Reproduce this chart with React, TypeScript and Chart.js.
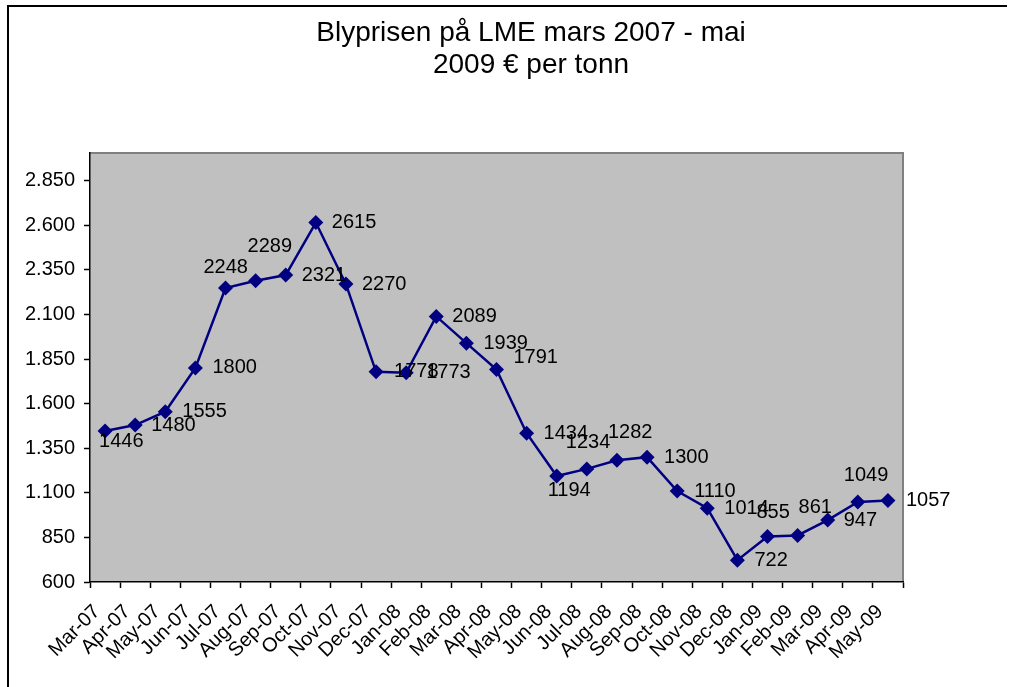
import React, { useEffect, useRef } from 'react';
import { Chart, registerables } from 'chart.js';

Chart.register(...registerables);

const months = [
  'Mar-07', 'Apr-07', 'May-07', 'Jun-07', 'Jul-07', 'Aug-07', 'Sep-07', 'Oct-07', 'Nov-07', 'Dec-07',
  'Jan-08', 'Feb-08', 'Mar-08', 'Apr-08', 'May-08', 'Jun-08', 'Jul-08', 'Aug-08', 'Sep-08', 'Oct-08',
  'Nov-08', 'Dec-08', 'Jan-09', 'Feb-09', 'Mar-09', 'Apr-09', 'May-09',
];

const prices = [
  1446, 1480, 1555, 1800, 2248, 2289, 2321, 2615, 2270, 1778,
  1773, 2089, 1939, 1791, 1434, 1194, 1234, 1282, 1300, 1110,
  1014, 722, 855, 861, 947, 1049, 1057,
];

const yTickValues = [600, 850, 1100, 1350, 1600, 1850, 2100, 2350, 2600, 2850];

const titleLines = ['Blyprisen på LME mars 2007 - mai', '2009 € per tonn'];

// label placement relative to each point (style only): [dx, dy] in px
const labelOffsets: [number, number][] = [
  [-6, 10], [16, 0], [17, 0], [17, 0], [-22, -21], [-8, -34], [16, 0], [16, 0], [16, 0], [18, 0],
  [20, 0], [16, 0], [17, 0], [17, -12], [17, 0], [-9, 14], [-21, -26], [-9, -28], [17, 0], [17, 0],
  [17, 0], [17, 0], [-11, -24], [1, -28], [16, 0], [-14, -26], [18, 0],
];

const FONT = '"Liberation Sans", Arial, Helvetica, sans-serif';

function fmt(v: number): string {
  return String(v).replace(/\B(?=(\d{3})+(?!\d))/g, '.');
}

const framePlugin = {
  id: 'framePlugin',
  beforeDraw(chart: any) {
    const { ctx, chartArea, width, height } = chart;
    ctx.save();
    ctx.fillStyle = '#ffffff';
    ctx.fillRect(0, 0, width, height);
    ctx.strokeStyle = '#000000';
    ctx.lineWidth = 2;
    ctx.beginPath();
    ctx.moveTo(8, height + 2);
    ctx.lineTo(8, 6);
    ctx.lineTo(1007, 6);
    ctx.stroke();
    ctx.fillStyle = '#c0c0c0';
    ctx.fillRect(chartArea.left, chartArea.top, chartArea.right - chartArea.left, chartArea.bottom - chartArea.top);
    ctx.strokeStyle = '#808080';
    ctx.lineWidth = 2;
    ctx.beginPath();
    ctx.moveTo(chartArea.left, chartArea.top);
    ctx.lineTo(chartArea.right, chartArea.top);
    ctx.lineTo(chartArea.right, chartArea.bottom);
    ctx.stroke();
    ctx.restore();
  },
  afterDraw(chart: any) {
    const { ctx } = chart;
    ctx.save();
    ctx.fillStyle = '#000000';
    ctx.font = `28px ${FONT}`;
    ctx.textAlign = 'center';
    ctx.textBaseline = 'middle';
    titleLines.forEach((t, i) => ctx.fillText(t, 531, 33 + i * 32));
    ctx.restore();
  },
};

const labelPlugin = {
  id: 'labelPlugin',
  afterDatasetsDraw(chart: any) {
    const { ctx } = chart;
    const meta = chart.getDatasetMeta(0);
    ctx.save();
    ctx.fillStyle = '#000000';
    ctx.font = `20px ${FONT}`;
    ctx.textAlign = 'left';
    ctx.textBaseline = 'middle';
    meta.data.forEach((pt: any, i: number) => {
      const off = labelOffsets[i] || [17, 0];
      ctx.fillText(String(prices[i]), pt.x + off[0], pt.y + off[1]);
    });
    ctx.restore();
  },
};

export default function App() {
  const ref = useRef<HTMLCanvasElement | null>(null);

  useEffect(() => {
    if (!ref.current) return;
    const chart = new Chart(ref.current, {
      type: 'line',
      data: {
        labels: months,
        datasets: [
          {
            data: prices,
            borderColor: '#000080',
            backgroundColor: '#000080',
            borderWidth: 2.5,
            pointStyle: 'rectRot',
            pointRadius: 7.5,
            pointBackgroundColor: '#000080',
            pointBorderColor: '#000080',
            pointBorderWidth: 0,
            tension: 0,
          },
        ],
      },
      options: {
        animation: false,
        responsive: false,
        devicePixelRatio: 1,
        layout: { padding: { left: 0, right: 113, top: 153, bottom: 0 } },
        plugins: {
          legend: { display: false },
          title: { display: false },
          tooltip: { enabled: false },
        },
        scales: {
          x: {
            type: 'category',
            offset: true,
            grid: {
              offset: true,
              drawOnChartArea: false,
              drawTicks: true,
              tickLength: 6,
              tickColor: '#000000',
              tickWidth: 1.5,
            },
            border: { color: '#000000', width: 1.5 },
            ticks: {
              autoSkip: false,
              minRotation: 45,
              maxRotation: 45,
              color: '#000000',
              font: { family: FONT, size: 20 },
              padding: 12,
              labelOffset: -8,
            },
            afterFit: (s: any) => {
              s.height = 105;
            },
          },
          y: {
            type: 'linear',
            min: 600,
            max: 3005,
            afterBuildTicks: (s: any) => {
              s.ticks = yTickValues.map((v) => ({ value: v }));
            },
            grid: {
              drawOnChartArea: false,
              drawTicks: true,
              tickLength: 6,
              tickColor: '#000000',
              tickWidth: 1.5,
            },
            border: { color: '#000000', width: 1.5 },
            ticks: {
              color: '#000000',
              font: { family: FONT, size: 20 },
              padding: 9,
              callback: (v: any) => fmt(Number(v)),
            },
            afterFit: (s: any) => {
              s.width = 90;
            },
          },
        },
      },
      plugins: [framePlugin, labelPlugin],
    });
    return () => chart.destroy();
  }, []);

  return (
    <div style={{ position: 'fixed', left: 0, top: 0, width: 1016, height: 687, background: '#fff' }}>
      <canvas ref={ref} width={1016} height={687} style={{ width: 1016, height: 687, display: 'block' }} />
    </div>
  );
}
